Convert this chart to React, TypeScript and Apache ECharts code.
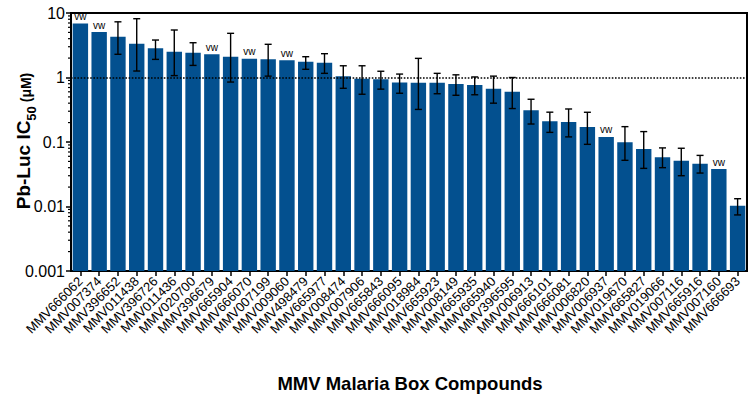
import React, { useEffect, useRef } from "react";
import * as echarts from "echarts";

const categories = [
  "MMV666062", "MMV007374", "MMV396652", "MMV011438", "MMV396726", "MMV011436",
  "MMV020700", "MMV396679", "MMV665904", "MMV666070", "MMV007199", "MMV009060",
  "MMV498479", "MMV665977", "MMV008474", "MMV007906", "MMV665843", "MMV666095",
  "MMV018984", "MMV665923", "MMV008149", "MMV665935", "MMV665940", "MMV396595",
  "MMV006913", "MMV666101", "MMV666081", "MMV006820", "MMV006937", "MMV019670",
  "MMV665827", "MMV019066", "MMV007116", "MMV665916", "MMV007160", "MMV666693",
];

const ic50 = [
  6.9, 5.07, 4.29, 3.34, 2.84, 2.51, 2.42, 2.29, 2.1, 1.96, 1.92, 1.85,
  1.76, 1.7, 1.05, 0.96, 0.94, 0.84, 0.83, 0.83, 0.79, 0.765, 0.67, 0.6,
  0.31, 0.21, 0.204, 0.171, 0.12, 0.099, 0.078, 0.058, 0.051, 0.046, 0.038, 0.0103,
];

const errLow: (number | null)[] = [
  null, null, 2.29, 1.26, 1.91, 1.07, 1.54, null, 0.85, null, 1.05, null,
  1.34, 1.16, 0.68, 0.55, 0.66, 0.57, 0.32, 0.56, 0.53, 0.54, 0.4, 0.33,
  0.19, 0.141, 0.12, 0.092, null, 0.052, 0.039, 0.04, 0.03, 0.033, null, 0.0074,
];

const errHigh: (number | null)[] = [
  null, null, 7.3, 8.16, 3.81, 5.45, 3.46, null, 4.84, null, 3.27, null,
  2.1, 2.34, 1.52, 1.52, 1.25, 1.13, 1.98, 1.16, 1.1, 1.02, 1.05, 1.0,
  0.46, 0.29, 0.325, 0.289, null, 0.173, 0.145, 0.081, 0.08, 0.062, null, 0.0132,
];

const vwFlags = [
  1, 1, 0, 0, 0, 0, 0, 1, 0, 1, 0, 1,
  0, 0, 0, 0, 0, 0, 0, 0, 0, 0, 0, 0,
  0, 0, 0, 0, 1, 0, 0, 0, 0, 0, 1, 0,
];

const yMin = 0.001;
const yMax = 10;
const decades = [0.001, 0.01, 0.1, 1];
const minorMultipliers = [2, 3, 4, 5, 6, 7, 8, 9];

const FONT = "Liberation Sans, Arial, Helvetica, sans-serif";
const BAR_COLOR = "#03508f";

export default function App() {
  const ref = useRef<HTMLDivElement>(null);

  useEffect(() => {
    if (!ref.current) return;
    const chart = echarts.init(ref.current, undefined, { renderer: "svg" });

    const barData = ic50.map((v, i) => [i, v, vwFlags[i]]);
    const errData = ic50
      .map((_, i) => (errLow[i] != null && errHigh[i] != null ? [i, errLow[i], errHigh[i]] : null))
      .filter((d) => d !== null);
    const minorData: number[][] = [];
    decades.forEach((d) => minorMultipliers.forEach((m) => minorData.push([0, d * m])));

    const option: any = {
      animation: false,
      backgroundColor: "#ffffff",
      textStyle: { fontFamily: FONT },
      grid: {
        left: 71,
        right: 7,
        top: 13,
        bottom: 129,
        show: true,
        borderColor: "#000",
        borderWidth: 2,
        backgroundColor: "transparent",
      },
      xAxis: {
        type: "category",
        data: categories,
        boundaryGap: true,
        axisLine: { show: true, lineStyle: { color: "#000", width: 2 } },
        axisTick: { show: true, alignWithLabel: true, length: 5, lineStyle: { color: "#000", width: 1.5 } },
        axisLabel: {
          rotate: 45,
          interval: 0,
          margin: 8,
          color: "#000",
          fontSize: 13,
          fontFamily: FONT,
        },
        splitLine: { show: false },
      },
      yAxis: {
        type: "log",
        logBase: 10,
        min: yMin,
        max: yMax,
        axisLine: { show: true, lineStyle: { color: "#000", width: 2 } },
        axisTick: { show: true, length: 5, lineStyle: { color: "#000", width: 1.5 } },
        axisLabel: {
          color: "#000",
          fontSize: 16,
          margin: 6,
          fontFamily: FONT,
          formatter: (v: number) => String(Number(v.toPrecision(6))),
        },
        splitLine: { show: false },
      },
      graphic: [
        {
          type: "text",
          x: 22,
          y: 141,
          rotation: Math.PI / 2,
          style: {
            text: "{a|Pb-Luc IC}{b|50}{c| (μM)}",
            align: "center",
            verticalAlign: "middle",
            fill: "#000",
            rich: {
              a: { fontSize: 19, fontWeight: "bold", fontFamily: FONT, fill: "#000", verticalAlign: "bottom", lineHeight: 22 },
              b: { fontSize: 13, fontWeight: "bold", fontFamily: FONT, fill: "#000", verticalAlign: "bottom", lineHeight: 22, padding: [0, 0, -5, 0] },
              c: { fontSize: 14, fontWeight: "bold", fontFamily: FONT, fill: "#000", verticalAlign: "bottom", lineHeight: 22 },
            },
          },
        },
        {
          type: "text",
          x: 410,
          y: 383,
          style: {
            text: "MMV Malaria Box Compounds",
            align: "center",
            verticalAlign: "middle",
            fontSize: 18.5,
            fontWeight: "bold",
            fontFamily: FONT,
            fill: "#000",
          },
        },
      ],
      series: [
        {
          type: "custom",
          name: "IC50",
          clip: false,
          data: barData,
          encode: { x: 0, y: 1 },
          renderItem: (params: any, api: any) => {
            const i = api.value(0);
            const v = api.value(1);
            const vw = api.value(2);
            const top = api.coord([i, v]);
            const base = api.coord([i, yMin]);
            const band = api.size([1, 0])[0];
            const w = band * 0.82;
            const children: any[] = [
              {
                type: "rect",
                shape: { x: top[0] - w / 2, y: top[1], width: w, height: base[1] - top[1] },
                style: { fill: BAR_COLOR },
              },
            ];
            if (vw) {
              children.push({
                type: "text",
                style: {
                  text: "vw",
                  x: top[0],
                  y: top[1] - 2,
                  align: "center",
                  verticalAlign: "bottom",
                  fontSize: 10,
                  fontFamily: FONT,
                  fill: "#000",
                },
              });
            }
            return { type: "group", children };
          },
          markLine: {
            silent: true,
            symbol: ["none", "none"],
            label: { show: false },
            lineStyle: { color: "#000", type: "dotted", width: 1.6 },
            data: [{ yAxis: 1 }],
          },
          z: 2,
        },
        {
          type: "custom",
          name: "error",
          clip: false,
          data: errData,
          encode: { x: 0, y: [1, 2] },
          renderItem: (params: any, api: any) => {
            const i = api.value(0);
            const lo = api.coord([i, api.value(1)]);
            const hi = api.coord([i, api.value(2)]);
            const cap = 3.5;
            const st = { stroke: "#000", lineWidth: 1.4 };
            return {
              type: "group",
              children: [
                { type: "line", shape: { x1: lo[0], y1: lo[1], x2: hi[0], y2: hi[1] }, style: st },
                { type: "line", shape: { x1: lo[0] - cap, y1: lo[1], x2: lo[0] + cap, y2: lo[1] }, style: st },
                { type: "line", shape: { x1: hi[0] - cap, y1: hi[1], x2: hi[0] + cap, y2: hi[1] }, style: st },
              ],
            };
          },
          z: 3,
        },
        {
          type: "custom",
          name: "minorTicks",
          clip: false,
          silent: true,
          data: minorData,
          encode: { y: 1 },
          renderItem: (params: any, api: any) => {
            const p = api.coord([0, api.value(1)]);
            const x0 = params.coordSys.x;
            return {
              type: "line",
              shape: { x1: x0 - 3, y1: p[1], x2: x0, y2: p[1] },
              style: { stroke: "#000", lineWidth: 1.2 },
            };
          },
          z: 4,
        },
      ],
    };

    chart.setOption(option);
    return () => chart.dispose();
  }, []);

  return <div ref={ref} style={{ width: 754, height: 400, position: "absolute", left: 0, top: 0 }} />;
}
